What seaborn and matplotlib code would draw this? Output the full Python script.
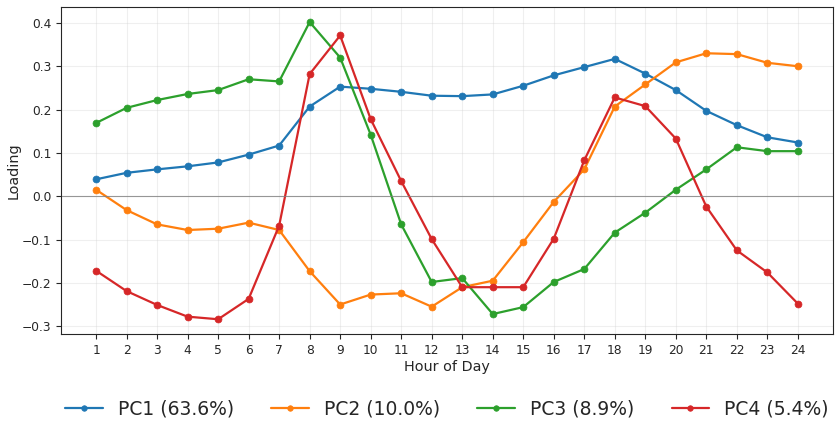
import numpy as np
import pandas as pd
import matplotlib
matplotlib.use("Agg")
import matplotlib.pyplot as plt
import seaborn as sns

# DATA
hours = list(range(1, 25))
pc1 = [0.039, 0.054, 0.062, 0.069, 0.078, 0.096, 0.117, 0.207, 0.253, 0.248, 0.241, 0.232,
       0.231, 0.235, 0.255, 0.279, 0.298, 0.317, 0.283, 0.245, 0.197, 0.164, 0.136, 0.124]
pc2 = [0.015, -0.032, -0.065, -0.078, -0.075, -0.061, -0.078, -0.173, -0.250, -0.227, -0.224, -0.255,
       -0.210, -0.195, -0.106, -0.013, 0.062, 0.207, 0.258, 0.309, 0.330, 0.328, 0.308, 0.300]
pc3 = [0.169, 0.204, 0.222, 0.236, 0.245, 0.270, 0.265, 0.402, 0.320, 0.142, -0.065, -0.198,
       -0.189, -0.272, -0.256, -0.198, -0.168, -0.084, -0.038, 0.015, 0.062, 0.113, 0.104, 0.104]
pc4 = [-0.172, -0.219, -0.251, -0.278, -0.284, -0.237, -0.068, 0.282, 0.371, 0.178, 0.035, -0.099,
       -0.210, -0.210, -0.210, -0.098, 0.083, 0.228, 0.208, 0.133, -0.024, -0.125, -0.176, -0.248]
labels = ["PC1 (63.6%)", "PC2 (10.0%)", "PC3 (8.9%)", "PC4 (5.4%)"]

df = pd.concat([
    pd.DataFrame({"hour": hours, "loading": vals, "component": lab})
    for vals, lab in zip([pc1, pc2, pc3, pc4], labels)
])

sns.set_style("white")
plt.rcParams['font.family'] = ['DejaVu Sans']

fig = plt.figure(figsize=(8.4, 4.24), dpi=100)
ax = fig.add_axes([0.0726, 0.212, 0.919, 0.771])

palette = ["#1f77b4", "#ff7f0e", "#2ca02c", "#d62728"]
sns.lineplot(data=df, x="hour", y="loading", hue="component", palette=palette,
             marker="o", markersize=5, markeredgewidth=0.5, linewidth=1.6, ax=ax)
for line in ax.lines:
    line.set_markeredgecolor(line.get_color())

ax.axhline(0, color="gray", linewidth=0.8, alpha=0.8)
ax.set_xticks(hours)
ax.grid(True, alpha=0.3)
ax.tick_params(axis="both", labelsize=8.8, length=3.5, left=True, bottom=True)
ax.set_xlabel("Hour of Day", fontsize=10.4, labelpad=2)
ax.set_ylabel("Loading", fontsize=10.4, labelpad=1)

handles, labs = ax.get_legend_handles_labels()
for h in handles:
    h.set_markeredgecolor(h.get_color())
    h.set_markersize(4)
ax.legend(handles, labs, loc="center", bbox_to_anchor=(0.532, 0.035),
          bbox_transform=fig.transFigure, ncol=4, frameon=False,
          fontsize=13.5)

fig.savefig("out.png", dpi=100)
